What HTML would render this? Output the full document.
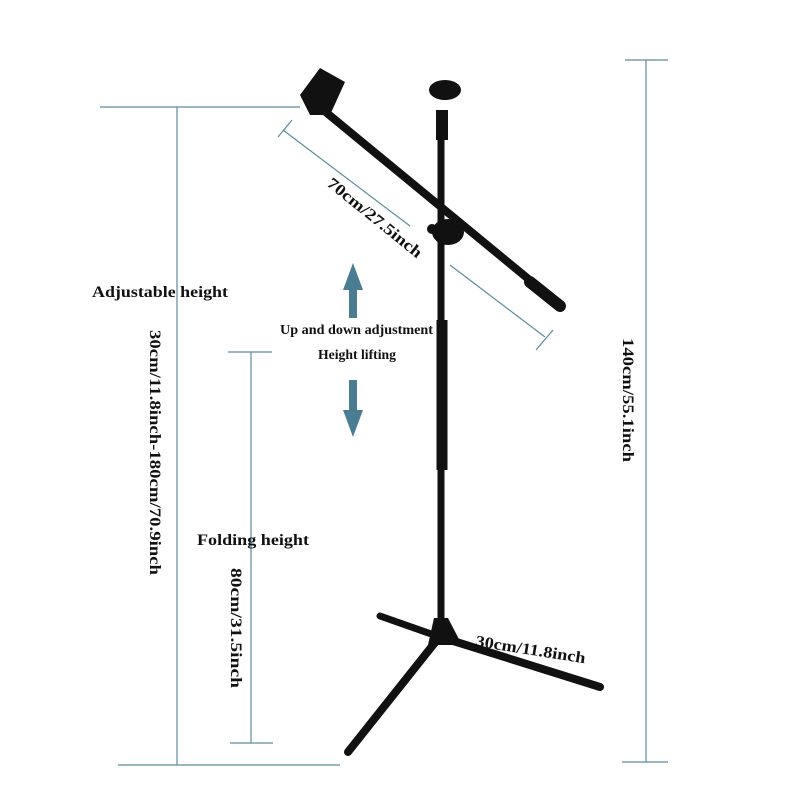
<!DOCTYPE html>
<html><head><style>body{margin:0;background:#fff}svg{display:block}text{font-family:"Liberation Serif",serif;font-weight:bold;fill:#111}</style></head>
<body>
<svg width="800" height="800" viewBox="0 0 800 800">
<g stroke="#5d8c9c" stroke-width="1.2" fill="none">
<line x1="100" y1="107" x2="300" y2="107"/>
<line x1="177" y1="107" x2="177" y2="765"/>
<line x1="118" y1="765" x2="340" y2="765"/>
<line x1="228" y1="352" x2="272" y2="352"/>
<line x1="251" y1="352" x2="251" y2="743"/>
<line x1="230" y1="743" x2="273" y2="743"/>
<line x1="625" y1="60" x2="668" y2="60"/>
<line x1="646" y1="60" x2="646" y2="762"/>
<line x1="622" y1="762" x2="668" y2="762"/>
<line x1="283" y1="130" x2="410" y2="226"/>
<line x1="450" y1="265" x2="545" y2="337"/>
<line x1="278" y1="137" x2="292" y2="120"/>
<line x1="536" y1="350" x2="553" y2="330"/>
</g>
<g fill="#4a7c92">
<polygon points="353,263 343,290 349,290 349,318 357,318 357,290 363,290"/>
<polygon points="353,437 343,410 349,410 349,380 357,380 357,410 363,410"/>
</g>
<g fill="#111" stroke="#111">
<line x1="441" y1="110" x2="441" y2="640" stroke-width="7"/>
<line x1="442" y1="320" x2="442" y2="470" stroke-width="11"/>
<line x1="442" y1="110" x2="442" y2="140" stroke-width="12"/>
<ellipse cx="445" cy="90" rx="16" ry="10" stroke="none"/>
<line x1="305" y1="95" x2="560" y2="305" stroke-width="8"/>
<line x1="530" y1="282" x2="560" y2="306" stroke-width="12" stroke-linecap="round"/>
<polygon points="300,95 320,68 345,82 330,115 310,115" stroke="none"/>
<ellipse cx="448" cy="232" rx="16" ry="13" stroke="none"/>
<circle cx="432" cy="229" r="5" stroke="none"/>
<polygon points="428,645 434,618 448,618 462,645" stroke="none"/>
<line x1="437" y1="640" x2="348" y2="752" stroke-width="8" stroke-linecap="round"/>
<line x1="437" y1="636" x2="380" y2="616" stroke-width="7" stroke-linecap="round"/>
<line x1="450" y1="640" x2="600" y2="687" stroke-width="8" stroke-linecap="round"/>
</g>
<text x="92" y="297" font-size="16" textLength="136" lengthAdjust="spacingAndGlyphs">Adjustable height</text>
<text x="280" y="334" font-size="14" textLength="153" lengthAdjust="spacingAndGlyphs">Up and down adjustment</text>
<text x="318" y="359" font-size="14" textLength="78" lengthAdjust="spacingAndGlyphs">Height lifting</text>
<text x="197" y="545" font-size="16" textLength="112" lengthAdjust="spacingAndGlyphs">Folding height</text>
<text font-size="16" transform="translate(150,330) rotate(90)" textLength="245" lengthAdjust="spacingAndGlyphs">30cm/11.8inch-180cm/70.9inch</text>
<text font-size="16" transform="translate(231,568) rotate(90)" textLength="120" lengthAdjust="spacingAndGlyphs">80cm/31.5inch</text>
<text font-size="16" transform="translate(623,338) rotate(90)" textLength="124" lengthAdjust="spacingAndGlyphs">140cm/55.1inch</text>
<text font-size="16" transform="translate(326,185) rotate(39)" textLength="117" lengthAdjust="spacingAndGlyphs">70cm/27.5inch</text>
<text font-size="16" transform="translate(475,646) rotate(9)" textLength="111" lengthAdjust="spacingAndGlyphs">30cm/11.8inch</text>
</svg>
</body></html>
